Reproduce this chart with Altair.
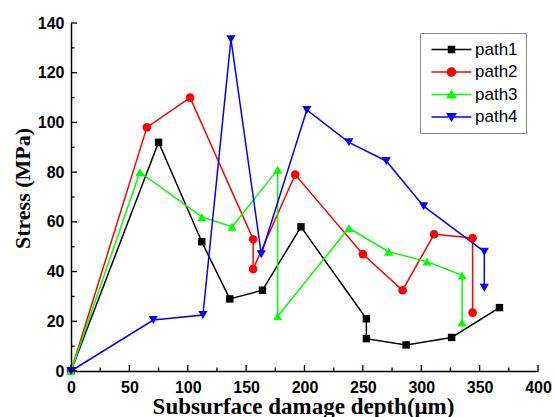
import altair as alt
import pandas as pd

series_names = ["path1", "path2", "path3", "path4"]

path1_x = [0, 75, 112, 136, 164, 197, 253, 253, 287, 326, 367]
path1_y = [0, 92, 52, 29, 32.5, 58, 21, 13, 10.5, 13.5, 25.5]
path2_x = [0, 65, 102, 156, 156, 192, 250, 284, 311, 344, 344]
path2_y = [0, 98, 110, 53, 41, 79, 47, 32.5, 55, 53.5, 23.5]
path3_x = [0, 59, 112, 138, 177, 177, 238, 272, 305, 335, 335]
path3_y = [0, 80, 62, 58, 81, 22, 57.5, 48, 44, 38.5, 19.5]
path4_x = [0, 70.5, 113, 137, 163, 202, 238, 270, 302, 354, 354]
path4_y = [0, 20.5, 22.5, 133.5, 47, 105, 92, 84.5, 66.3, 48, 33.5]

x_major = [0, 50, 100, 150, 200, 250, 300, 350, 400]
x_minor = [25, 75, 125, 175, 225, 275, 325, 375]
y_major = [0, 20, 40, 60, 80, 100, 120, 140]
y_minor = [10, 30, 50, 70, 90, 110, 130]

colors = ["#000000", "#ff0000", "#00ff00", "#0000ff"]
marker_shapes = ["square", "circle", "triangle-up", "triangle-down"]
marker_sizes = [55, 75, 85, 85]

# legend symbols: line segment + marker (units: 5 px per unit at size 100)
line_part = "M-4,-0.15H4V0.15H-4Z"
legend_paths = [
    line_part + "M-0.75,-0.75H0.75V0.75H-0.75Z",
    line_part + "M0.95,0A0.95,0.95 0 1,1 -0.95,0A0.95,0.95 0 1,1 0.95,0Z",
    line_part + "M0,-1L1.1,0.8L-1.1,0.8Z",
    line_part + "M0,1L-1.1,-0.8L1.1,-0.8Z",
]

rows = []
for name, xs, ys in zip(series_names, [path1_x, path2_x, path3_x, path4_x],
                        [path1_y, path2_y, path3_y, path4_y]):
    for i, (xv, yv) in enumerate(zip(xs, ys)):
        rows.append({"series": name, "order": i, "depth": xv, "stress": yv})
df = pd.DataFrame(rows)

W, H = 467, 348

x_scale = alt.Scale(domain=[0, 400], nice=False, zero=False)
y_scale = alt.Scale(domain=[0, 140], nice=False, zero=False)
color_scale = alt.Scale(domain=series_names, range=colors)

x_axis = alt.Axis(
    values=x_major, ticks=False, grid=False, domainColor="black", domainWidth=1.5,
    labelFont="Liberation Sans", labelFontWeight="bold", labelFontSize=16,
    labelColor="black", labelPadding=8, labelFlush=False, labelOverlap=False,
    title="Subsurface damage depth(μm)", titleFont="Liberation Serif",
    titleFontSize=23, titleFontWeight="bold", titleColor="black",
    titleBaseline="alphabetic", titleY=42, titleX=232,
)
y_axis = alt.Axis(
    values=y_major, ticks=False, grid=False, domainColor="black", domainWidth=1.5,
    labelFont="Liberation Sans", labelFontWeight="bold", labelFontSize=16,
    labelColor="black", labelPadding=7, labelFlush=False, labelOverlap=False,
    title="Stress (MPa)", titleFont="Liberation Serif", titleFontSize=22,
    titleFontWeight="bold", titleColor="black", titleAngle=270,
    titleBaseline="middle", titleAlign="center", titleX=-49, titleY=165,
)

legend_cfg = dict(
    orient="none", legendX=349, legendY=10, title=None, padding=8,
    strokeColor="#8c8c8c", fillColor="white",
    labelFont="Liberation Sans", labelFontSize=17, labelColor="black",
    symbolSize=100, symbolStrokeWidth=0, symbolOffset=15, labelOffset=15,
    rowPadding=4.5, symbolOpacity=1,
)

# legend-only layer (first, so its legend settings win): marks are filtered away
legend_layer = alt.Chart(df).transform_filter("datum.order < 0").mark_point(
    filled=True, size=100).encode(
    x=alt.X("depth:Q", scale=x_scale, axis=x_axis),
    y=alt.Y("stress:Q", scale=y_scale, axis=y_axis),
    color=alt.Color("series:N", scale=color_scale, legend=alt.Legend(**legend_cfg)),
    shape=alt.Shape("series:N", scale=alt.Scale(domain=series_names, range=legend_paths),
                    legend=alt.Legend(**legend_cfg)),
)

base = alt.Chart(df).encode(
    x=alt.X("depth:Q", scale=x_scale, axis=x_axis),
    y=alt.Y("stress:Q", scale=y_scale, axis=y_axis),
    color=alt.Color("series:N", scale=color_scale, legend=None),
)

lines = base.mark_line(strokeWidth=1.5).encode(order=alt.Order("order:Q"))

point_layers = []
for name, shp, sz in zip(series_names, marker_shapes, marker_sizes):
    point_layers.append(
        base.transform_filter(alt.datum.series == name)
        .mark_point(filled=True, shape=shp, size=sz, opacity=1)
    )

xt_major = alt.Chart(pd.DataFrame({"v": x_major})).mark_rule(color="black", strokeWidth=1.3).encode(
    x=alt.X("v:Q", scale=x_scale), y=alt.value(H), y2=alt.value(H - 6))
xt_minor = alt.Chart(pd.DataFrame({"v": x_minor})).mark_rule(color="black", strokeWidth=1.3).encode(
    x=alt.X("v:Q", scale=x_scale), y=alt.value(H), y2=alt.value(H - 3.5))
yt_major = alt.Chart(pd.DataFrame({"v": y_major})).mark_rule(color="black", strokeWidth=1.3).encode(
    y=alt.Y("v:Q", scale=y_scale), x=alt.value(0), x2=alt.value(6))
yt_minor = alt.Chart(pd.DataFrame({"v": y_minor})).mark_rule(color="black", strokeWidth=1.3).encode(
    y=alt.Y("v:Q", scale=y_scale), x=alt.value(0), x2=alt.value(3.5))

chart = alt.layer(
    legend_layer, lines, *point_layers, xt_major, xt_minor, yt_major, yt_minor
).properties(
    width=W, height=H,
    autosize=alt.AutoSizeParams(type="none"),
    padding={"left": 71, "top": 23, "right": 16, "bottom": 46},
    background="white",
).configure_view(strokeWidth=0)

chart.save("out.html", embed_options={"renderer": "svg", "actions": False})
